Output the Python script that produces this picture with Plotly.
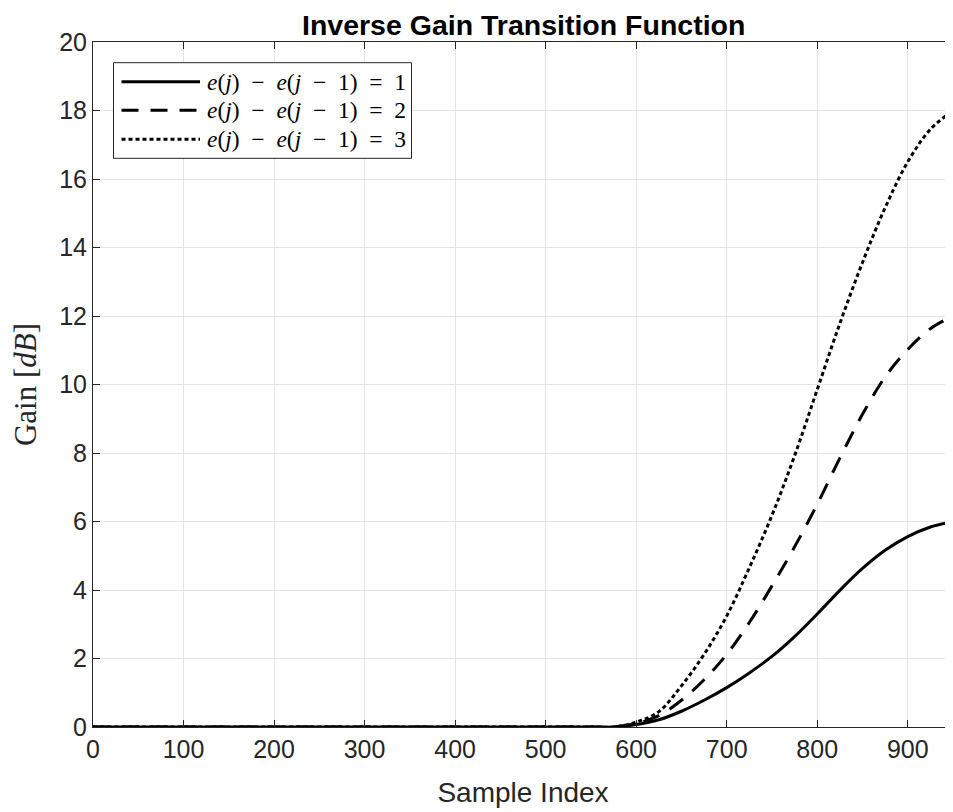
import plotly.graph_objects as go

# ---- data ----
sample_index = [0, 550, 575, 600, 625, 650, 675, 700, 725, 750, 775, 800, 825, 850, 875, 900, 925, 950]
gain_step1 = [0, 0, 0, 0.07, 0.21, 0.46, 0.78, 1.15, 1.58, 2.06, 2.64, 3.30, 3.99, 4.63, 5.16, 5.56, 5.84, 6.0]
gain_step2 = [0, 0, 0, 0.10, 0.33, 0.78, 1.38, 2.12, 3.05, 4.12, 5.26, 6.50, 7.85, 9.13, 10.22, 11.02, 11.63, 12.0]
gain_step3 = [0, 0, 0, 0.14, 0.45, 1.20, 2.12, 3.24, 4.65, 6.18, 7.92, 9.85, 11.78, 13.56, 15.16, 16.50, 17.45, 18.0]

series_names = ["e(j) − e(j − 1) = 1", "e(j) − e(j − 1) = 2", "e(j) − e(j − 1) = 3"]
series_labels = [
    "<i>e</i>(<i>j</i>)\u2002−\u2002<i>e</i>(<i>j</i>\u2002−\u20021)\u2002=\u20021",
    "<i>e</i>(<i>j</i>)\u2002−\u2002<i>e</i>(<i>j</i>\u2002−\u20021)\u2002=\u20022",
    "<i>e</i>(<i>j</i>)\u2002−\u2002<i>e</i>(<i>j</i>\u2002−\u20021)\u2002=\u20023",
]
series_dash = ["solid", "17px,12px", "4px,3px"]
x_ticks = [0, 100, 200, 300, 400, 500, 600, 700, 800, 900]
y_ticks = [0, 2, 4, 6, 8, 10, 12, 14, 16, 18, 20]

AX = "#262626"
fig = go.Figure()
for ys, name, dash in zip([gain_step1, gain_step2, gain_step3], series_names, series_dash):
    fig.add_trace(go.Scatter(
        x=sample_index, y=ys, mode="lines", name=name, showlegend=False,
        line=dict(color="black", width=3, dash=dash, shape="spline", smoothing=1.0),
    ))

# page body has an 8px margin; figure is sized so the plot lands where it should in the window
OFF = 8
W, H = 953 - OFF, 812 - OFF
L, R, T, B = 93 - OFF, 0, 42 - OFF, 85
pw, ph = W - L - R, H - T - B

def px(xp):  # window pixel -> paper
    return (xp - OFF - L) / pw

def py(yp):
    return (H - B - (yp - OFF)) / ph

# manual legend (box, samples, labels)
shapes = [dict(type="rect", xref="paper", yref="paper",
               x0=px(113.5), x1=px(411.5), y0=py(158.3), y1=py(62.7),
               line=dict(color=AX, width=1), fillcolor="white", layer="above")]
annotations = []
rows = [81.7, 110.3, 139.3]
for rowy, dash, lab in zip(rows, series_dash, series_labels):
    shapes.append(dict(type="line", xref="paper", yref="paper",
                       x0=px(121.5), x1=px(200), y0=py(rowy), y1=py(rowy),
                       line=dict(color="black", width=3, dash=dash), layer="above"))
    annotations.append(dict(xref="paper", yref="paper", x=px(205), y=py(rowy),
                            xanchor="left", yanchor="middle", showarrow=False,
                            text=lab, font=dict(family="Liberation Serif", size=23.5, color="black")))

# title
annotations.append(dict(xref="paper", yref="paper", x=0.5, y=1, yanchor="bottom", yshift=0,
                        xanchor="center", showarrow=False, borderpad=0,
                        text="<b>Inverse Gain Transition Function</b>",
                        font=dict(family="Liberation Sans", size=28.5, color="black")))

fig.update_layout(
    width=W, height=H,
    margin=dict(l=L, r=R, t=T, b=B, pad=0, autoexpand=False),
    paper_bgcolor="white", plot_bgcolor="white",
    shapes=shapes, annotations=annotations,
    font=dict(family="Liberation Sans", color=AX),
)
fig.update_xaxes(
    range=[0, 950], tickvals=x_ticks, ticktext=[str(v) for v in x_ticks],
    automargin=False,
    showgrid=True, gridcolor="#e3e3e3", gridwidth=1, zeroline=False,
    showline=True, linecolor=AX, linewidth=1, mirror="ticks",
    ticks="inside", ticklen=7, tickcolor=AX, tickwidth=1,
    tickfont=dict(size=25, color=AX),
    title=dict(text="Sample Index", font=dict(size=28, color=AX), standoff=20),
)
fig.update_yaxes(
    range=[0, 20], tickvals=y_ticks, ticktext=[str(v) for v in y_ticks],
    automargin=False,
    showgrid=True, gridcolor="#e3e3e3", gridwidth=1, zeroline=False,
    showline=True, linecolor=AX, linewidth=1, mirror="ticks",
    ticks="inside", ticklen=7, tickcolor=AX, tickwidth=1,
    tickfont=dict(size=25, color=AX),
    title=dict(text="Gain [<i>dB</i>]", font=dict(family="Liberation Serif", size=31, color=AX), standoff=13),
)

fig.write_html("out.html")
